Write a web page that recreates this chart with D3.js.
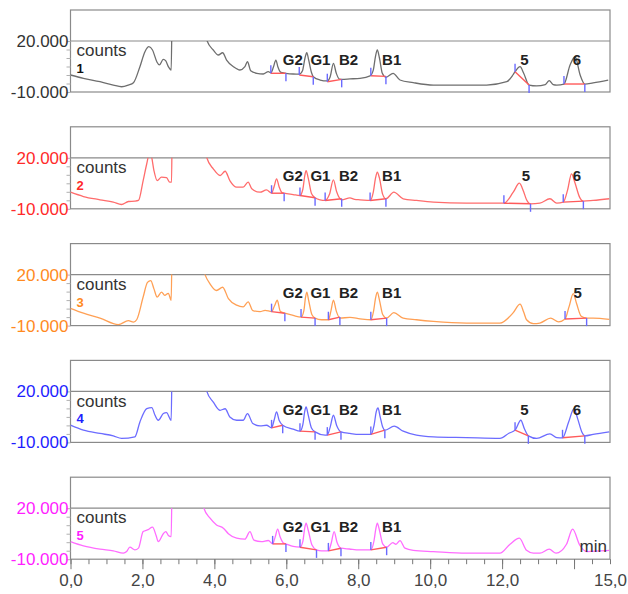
<!DOCTYPE html>
<html>
<head>
<meta charset="utf-8">
<script src="https://cdn.jsdelivr.net/npm/d3@7"></script>
<style>
  body { margin: 0; background: #fff; }
  svg { display: block; font-family: Arial, "Liberation Sans", sans-serif; }
</style>
</head>
<body>
<div id="chart"></div>
<script>
// ---- data (time in min, signal in counts) ----
const yTickValues = [-10000, -5000, 0, 5000, 10000, 15000, 20000];
const yLabelValues = [-10000, 20000];
const xMajorValues = [0, 2, 4, 6, 8, 10, 12, 14];
const xLabelValues = [0, 2, 4, 6, 8, 10, 12, 15];
const traceNames = ["1", "2", "3", "4", "5"];

const trace1 = [[0,0],[0.36,-1950],[0.82,-3950],[1.19,-5900],[1.42,-6900],[1.61,-5900],[1.75,-4550],[1.93,4900],[2.07,13700],[2.18,16650],[2.28,14700],[2.40,7800],[2.47,5900],[2.58,9200],[2.65,8250],[2.72,4900],[2.80,2950],[2.83,45000],[3.30,45000],[3.72,26000],[3.80,20000],[3.97,14700],[4.11,11760],[4.23,13100],[4.34,8800],[4.53,4900],[4.71,2950],[4.85,4900],[4.92,7800],[5.01,2550],[5.18,1000],[5.36,600],[5.50,1950],[5.57,1300],[5.64,4500],[5.71,8800],[5.77,4500],[5.85,1500],[5.99,1000],[6.19,600],[6.36,500],[6.45,2500],[6.52,10000],[6.57,13100],[6.62,9000],[6.70,1500],[6.75,-1000],[6.94,-2950],[7.14,-3500],[7.22,-1000],[7.31,6880],[7.39,1000],[7.48,-2500],[7.54,-2550],[7.77,-2300],[8.05,-1950],[8.33,-500],[8.42,3000],[8.48,11000],[8.53,14700],[8.59,10000],[8.67,1000],[8.77,-1350],[8.97,1000],[9.16,-2950],[9.53,-4500],[10.09,-5900],[10.83,-5900],[11.57,-5900],[12.13,-3950],[12.30,0],[12.36,1950],[12.50,4900],[12.60,1000],[12.75,-5900],[12.96,-6400],[13.20,-5600],[13.31,-3350],[13.42,-5600],[13.52,-5900],[13.72,-5300],[13.89,5900],[14.03,10750],[14.17,0],[14.30,-5350],[14.53,-4600],[14.95,-2950]];
const trace2 = [[0,-240],[0.36,-2770],[0.82,-4700],[1.19,-6100],[1.42,-7470],[1.61,-5700],[1.79,-5500],[1.89,-5100],[2.02,6600],[2.12,16500],[2.20,23000],[2.25,21000],[2.32,12500],[2.41,6600],[2.53,8600],[2.67,8300],[2.76,5650],[2.81,5650],[2.83,45000],[3.30,45000],[3.72,26000],[3.79,20000],[3.97,13500],[4.16,9600],[4.30,12100],[4.43,6600],[4.62,2700],[4.80,2700],[4.94,5650],[5.04,1760],[5.27,-240],[5.45,1100],[5.59,-830],[5.66,3000],[5.73,7640],[5.80,3000],[5.88,-500],[5.94,-830],[6.19,-1600],[6.38,-2180],[6.46,1500],[6.51,9000],[6.55,12500],[6.61,8000],[6.70,-1000],[6.80,-3530],[6.94,-4700],[7.08,-5100],[7.20,-1500],[7.31,7050],[7.40,0],[7.54,-4700],[7.77,-3530],[7.90,-4500],[8.05,-4700],[8.33,-5100],[8.42,0],[8.48,8000],[8.53,11500],[8.59,8000],[8.68,-1500],[8.77,-4100],[8.99,-240],[9.25,-4100],[9.62,-5100],[10.09,-6100],[11.01,-6700],[11.75,-6700],[12.05,-6700],[12.31,-240],[12.48,5050],[12.60,0],[12.68,-4700],[12.79,-7060],[13.05,-6700],[13.33,-4100],[13.52,-6700],[13.70,-6100],[13.82,1000],[13.93,10580],[14.03,5000],[14.15,-3000],[14.26,-5500],[14.53,-5100],[14.98,-4100]];
const trace3 = [[0,150],[0.36,-2700],[0.82,-5580],[1.33,-9430],[1.61,-7130],[1.75,-8000],[1.84,-6560],[2.02,6800],[2.14,15400],[2.23,16400],[2.32,11600],[2.41,6800],[2.53,9700],[2.62,7800],[2.72,9000],[2.80,4900],[2.83,45000],[3.30,45000],[3.68,24000],[3.74,20000],[3.88,14500],[4.06,10650],[4.23,12550],[4.39,5900],[4.62,2000],[4.80,1000],[4.94,3950],[5.07,-1200],[5.27,-1800],[5.41,-1000],[5.59,-1800],[5.67,1500],[5.75,4900],[5.83,-1500],[5.96,-2700],[6.19,-4000],[6.41,-5000],[6.49,-1000],[6.53,6000],[6.57,9700],[6.62,5000],[6.71,-3500],[6.80,-5580],[6.98,-6560],[7.17,-6560],[7.24,-1500],[7.31,4900],[7.39,-1500],[7.49,-5580],[7.77,-5200],[8.05,-6000],[8.35,-6560],[8.43,-1000],[8.48,6000],[8.53,9700],[8.59,5000],[8.68,-3500],[8.79,-5580],[8.99,-2400],[9.25,-5580],[9.62,-6560],[10.09,-7530],[11.01,-8500],[11.94,-8500],[12.31,-2400],[12.50,2620],[12.60,-2000],[12.68,-6560],[12.87,-8850],[13.05,-8500],[13.35,-5580],[13.57,-7800],[13.75,-6150],[13.86,1000],[13.98,8760],[14.07,3000],[14.20,-4500],[14.35,-5580],[14.53,-5580],[14.98,-6350]];
const trace4 = [[0,120],[0.36,-2800],[0.82,-4740],[1.19,-6140],[1.42,-7660],[1.79,-6730],[1.93,2050],[2.12,9880],[2.26,10470],[2.35,5970],[2.44,3040],[2.58,6960],[2.67,7550],[2.80,3040],[2.83,45000],[3.30,45000],[3.72,26000],[3.79,20000],[3.97,13740],[4.16,8890],[4.30,9800],[4.43,4970],[4.62,3040],[4.80,3040],[4.92,6960],[5.07,1110],[5.27,-300],[5.45,100],[5.59,-1460],[5.66,3000],[5.73,7900],[5.80,3000],[5.90,120],[6.19,-2200],[6.38,-3390],[6.46,500],[6.51,8000],[6.55,10820],[6.61,6000],[6.70,-1500],[6.80,-3800],[7.08,-5730],[7.14,-5730],[7.22,-1000],[7.31,5970],[7.40,0],[7.52,-3800],[7.77,-4740],[8.05,-5320],[8.35,-5320],[8.44,0],[8.50,8000],[8.55,10230],[8.61,5000],[8.68,-1000],[8.74,-2800],[9.00,-470],[9.25,-3400],[9.62,-5730],[10.09,-6730],[11.01,-7200],[11.94,-7660],[12.20,-4500],[12.36,-2800],[12.52,3040],[12.62,-2000],[12.73,-6140],[12.96,-7660],[13.33,-5000],[13.52,-7200],[13.68,-7300],[13.85,2000],[14.00,9880],[14.10,4000],[14.22,-4000],[14.30,-6140],[14.53,-5300],[14.98,-3800]];
const trace5 = [[0,350],[0.36,-2180],[0.82,-4120],[1.19,-5120],[1.47,-6470],[1.56,-5500],[1.65,-2940],[1.79,-4500],[1.89,-3500],[2.02,6230],[2.16,7400],[2.28,8820],[2.38,4000],[2.44,350],[2.58,5000],[2.65,6230],[2.72,4000],[2.80,3290],[2.83,45000],[3.30,45000],[3.64,26000],[3.71,20000],[3.88,14100],[4.06,10170],[4.25,8230],[4.39,5000],[4.62,2350],[4.85,1800],[4.99,6230],[5.10,1200],[5.31,350],[5.50,1000],[5.62,-1000],[5.69,3000],[5.76,7640],[5.83,3000],[5.92,-500],[5.99,-1000],[6.19,-2500],[6.38,-2940],[6.46,500],[6.51,8000],[6.55,11170],[6.61,7000],[6.71,-1500],[6.84,-4530],[6.98,-5120],[7.17,-5120],[7.25,-500],[7.33,6230],[7.41,0],[7.52,-3530],[7.75,-4000],[8.03,-4530],[8.35,-4530],[8.44,1000],[8.49,8000],[8.53,11170],[8.59,7000],[8.68,-1000],[8.79,-2940],[8.96,-240],[9.05,-1200],[9.16,940],[9.30,-3530],[9.53,-4800],[10.09,-5530],[11.01,-6470],[11.94,-6470],[12.22,-1200],[12.48,2350],[12.68,-4800],[12.87,-6470],[13.05,-6470],[13.31,-4120],[13.50,-6470],[13.79,-1200],[13.96,7640],[14.16,-1800],[14.35,-5500],[14.72,-5120],[14.98,-4800]];

// integration baselines: [start time, start counts, end time, end counts]
const integ1 = [[5.57,1000,5.99,1000],[6.36,0,6.75,-1000],[7.14,-3950,7.54,-2550],[8.35,-400,8.77,-800],[12.36,1950,12.75,-5900],[13.72,-5300,14.30,-5300]];
const integ2 = [[5.59,-830,5.94,-830],[6.38,-2180,6.80,-3530],[7.08,-5100,7.54,-4100],[8.33,-5100,8.77,-4100],[12.05,-6700,12.79,-7060],[13.70,-6100,14.26,-5500]];
const integ3 = [[5.59,-1800,5.96,-2700],[6.41,-5000,6.80,-5580],[7.17,-6560,7.49,-5000],[8.35,-6560,8.79,-5580],[13.75,-6150,14.35,-5580]];
const integ4 = [[5.59,-1460,5.90,120],[6.38,-3390,6.80,-3800],[7.14,-5730,7.52,-3800],[8.35,-5320,8.74,-2800],[12.36,-2800,12.73,-6140],[13.68,-7300,14.30,-6140]];
const integ5 = [[5.62,-1000,5.99,-1000],[6.38,-2940,6.84,-4530],[7.17,-5120,7.52,-3530],[8.35,-4530,8.79,-2940]];

// peak names and the time their label is centred on
const peaks1 = [["G2",6.18],["G1",6.95],["B2",7.73],["B1",8.93],["5",12.62],["6",14.08]];
const peaks2 = [["G2",6.18],["G1",6.95],["B2",7.73],["B1",8.93],["5",12.66],["6",14.08]];
const peaks3 = [["G2",6.18],["G1",6.95],["B2",7.73],["B1",8.93],["5",14.10]];
const peaks4 = [["G2",6.18],["G1",6.95],["B2",7.73],["B1",8.93],["5",12.62],["6",14.08]];
const peaks5 = [["G2",6.18],["G1",6.95],["B2",7.73],["B1",8.93]];

const traces = [trace1, trace2, trace3, trace4, trace5];
const integs = [integ1, integ2, integ3, integ4, integ5];
const peaks = [peaks1, peaks2, peaks3, peaks4, peaks5];

// ---- styles ----
const labelColors = ["#333333", "#ff2a2a", "#ff8a1e", "#1e1eff", "#ff1eff"];
const lineColors = ["#6e6e6e", "#ff6c6c", "#ffa055", "#6c6cff", "#ff6cff"];
const frameColor = "#8a8a8a";

const width = 628;
const height = 594;
const panelTop = 10;
const panelStep = 116.8;
const upperH = 31;   // empty band above the 20.000 line
const lowerH = 51;   // 20.000 .. -10.000

const svg = d3.select("#chart")
              .append("svg")
              .attr("width", width)
              .attr("height", height);

const xScale = d3.scaleLinear()
                 .domain([0, 15])
                 .range([70.5, 610]);

const yScale = d3.scaleLinear()
                 .domain([-10000, 20000])
                 .range([lowerH, 0]);

const de = d3.formatLocale({decimal: ",", thousands: ".", grouping: [3], currency: ["", ""], minus: "-"});
const fmtY = de.format(",d");
const fmtX = de.format(".1f");

svg.append("defs")
   .append("clipPath")
   .attr("id", "plotClip")
   .append("rect")
   .attr("x", xScale(0))
   .attr("y", 0)
   .attr("width", xScale(15) - xScale(0))
   .attr("height", lowerH);

const line = d3.line()
               .x(d => xScale(d[0]))
               .y(d => yScale(d[1]))
               .curve(d3.curveMonotoneX);

traces.forEach((trace, i) => {
    const g = svg.append("g")
                 .attr("transform", `translate(0, ${panelTop + i * panelStep + upperH})`);

    // frame + 20.000 line
    g.append("rect")
     .attr("x", xScale(0))
     .attr("y", -upperH)
     .attr("width", xScale(15) - xScale(0))
     .attr("height", upperH + lowerH)
     .attr("fill", "none")
     .attr("stroke", frameColor)
     .attr("stroke-width", 1.2);

    g.append("line")
     .attr("x1", xScale(0))
     .attr("x2", xScale(15))
     .attr("y1", yScale(20000))
     .attr("y2", yScale(20000))
     .attr("stroke", frameColor)
     .attr("stroke-width", 1.2);

    // y ticks and labels
    const yTicks = g.append("g")
                    .attr("transform", `translate(${xScale(0)}, 0)`)
                    .call(d3.axisLeft(yScale).tickValues(yTickValues).tickSize(4).tickFormat(""));
    yTicks.select(".domain").remove();
    yTicks.selectAll("line").attr("stroke", "#b0b0b0");

    const yLabels = g.append("g")
                     .attr("transform", `translate(${xScale(0)}, 0)`)
                     .call(d3.axisLeft(yScale).tickValues(yLabelValues).tickSize(0).tickPadding(2).tickFormat(fmtY));
    yLabels.select(".domain").remove();
    yLabels.selectAll("text")
           .attr("font-size", 17)
           .attr("font-family", "Arial, 'Liberation Sans', sans-serif")
           .attr("fill", labelColors[i]);

    g.append("text")
     .attr("x", xScale(0) + 6)
     .attr("y", 15.2)
     .attr("font-size", 17)
     .attr("fill", "#333")
     .text("counts");

    g.append("text")
     .attr("x", xScale(0) + 6)
     .attr("y", 32)
     .attr("font-size", 13)
     .attr("font-weight", "bold")
     .attr("fill", i === 0 ? "#111" : labelColors[i])
     .text(traceNames[i]);

    // trace
    g.append("path")
     .datum(trace)
     .attr("clip-path", "url(#plotClip)")
     .attr("fill", "none")
     .attr("stroke", lineColors[i])
     .attr("stroke-width", 1.3)
     .attr("d", line);

    // integration baselines and markers
    const ig = g.selectAll(".integ")
                .data(integs[i])
                .join("g");

    ig.append("line")
      .attr("x1", d => xScale(d[0]))
      .attr("y1", d => yScale(d[1]))
      .attr("x2", d => xScale(d[2]))
      .attr("y2", d => yScale(d[3]))
      .attr("stroke", "#ff5a5a")
      .attr("stroke-width", 1.4);

    ig.append("line")
      .attr("x1", d => xScale(d[0]))
      .attr("x2", d => xScale(d[0]))
      .attr("y1", d => yScale(d[1]))
      .attr("y2", d => yScale(d[1]) - 8)
      .attr("stroke", "#6a6aff")
      .attr("stroke-width", 1.4);

    ig.append("line")
      .attr("x1", d => xScale(d[2]))
      .attr("x2", d => xScale(d[2]))
      .attr("y1", d => yScale(d[3]))
      .attr("y2", d => yScale(d[3]) + 8)
      .attr("stroke", "#6a6aff")
      .attr("stroke-width", 1.4);

    // peak names
    g.selectAll(".peak")
     .data(peaks[i])
     .join("text")
     .attr("x", d => xScale(d[1]))
     .attr("y", 23.5)
     .attr("text-anchor", "middle")
     .attr("font-size", 15)
     .attr("font-weight", "bold")
     .attr("fill", "#222")
     .text(d => d[0]);

    // time axis under the last panel
    if (i === traces.length - 1) {
        const minor = g.append("g")
                       .attr("transform", `translate(0, ${lowerH})`)
                       .call(d3.axisBottom(xScale).ticks(30).tickSize(5).tickFormat(""));
        minor.select(".domain").remove();
        minor.selectAll("line").attr("stroke", "#777");

        const major = g.append("g")
                       .attr("transform", `translate(0, ${lowerH})`)
                       .call(d3.axisBottom(xScale).tickValues(xMajorValues).tickSize(10).tickFormat(""));
        major.select(".domain").remove();
        major.selectAll("line").attr("stroke", "#777");

        const labels = g.append("g")
                        .attr("transform", `translate(0, ${lowerH})`)
                        .call(d3.axisBottom(xScale).tickValues(xLabelValues).tickSize(0).tickPadding(15).tickFormat(fmtX));
        labels.select(".domain").remove();
        labels.selectAll("text")
              .attr("font-size", 17)
              .attr("font-family", "Arial, 'Liberation Sans', sans-serif")
              .attr("fill", "#444");

        g.append("text")
         .attr("x", xScale(15) - 3)
         .attr("y", 43.4)
         .attr("text-anchor", "end")
         .attr("font-size", 17)
         .attr("fill", "#333")
         .text("min");
    }
});
</script>
</body>
</html>
